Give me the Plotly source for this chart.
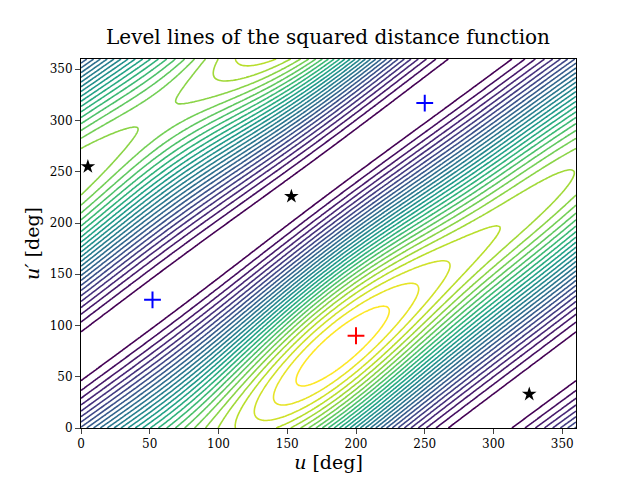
import numpy as np
import plotly.graph_objects as go

# grid (deg)
u = np.linspace(0, 360, 241)
up = np.linspace(0, 360, 241)

# marked points
star_u = [5, 153, 326]
star_up = [255, 226, 33]
blue_u = [52, 250]
blue_up = [125, 317]
red_u = [200]
red_up = [90]

# squared distance model (ridge along u-u'=110, valley along u'-u=70)
U, UP = np.meshgrid(np.radians(u), np.radians(up))
d = U - UP - np.radians(110)
mod = 1 + 0.1 * np.cos(U - np.radians(205)) + 0.03 * np.cos(2 * (U - np.radians(175)))
Z = (1 + np.cos(d)) * mod

fig = go.Figure()
fig.add_trace(go.Contour(
    x=u, y=up, z=Z,
    contours=dict(coloring='lines', start=0.08, end=Z.max(), size=0.075),
    colorscale='Viridis', showscale=False, line=dict(width=1.6)))
fig.add_trace(go.Scatter(x=star_u, y=star_up, mode='markers',
                         marker=dict(symbol='star', color='black', size=11)))
fig.add_trace(go.Scatter(x=blue_u, y=blue_up, mode='markers',
                         marker=dict(symbol='cross-thin', color='blue', size=12,
                                     line=dict(width=2, color='blue'))))
fig.add_trace(go.Scatter(x=red_u, y=red_up, mode='markers',
                         marker=dict(symbol='cross-thin', color='red', size=12,
                                     line=dict(width=2, color='red'))))

fig.update_layout(
    width=640, height=480, showlegend=False,
    plot_bgcolor='white', paper_bgcolor='white',
    font=dict(family='DejaVu Serif', color='black', size=12),
    title=dict(text='Level lines of the squared distance function', x=0.5, y=0.955,
               font=dict(size=20)),
    margin=dict(l=73, r=72, t=51, b=60))
fig.update_xaxes(range=[0, 360], tickvals=list(range(0, 351, 50)), ticks='outside',
                 showgrid=False, zeroline=False, mirror=True, showline=True,
                 linecolor='black', title=dict(text='<i>u</i> [deg]', font=dict(size=19), standoff=0))
fig.update_yaxes(range=[0, 360], tickvals=list(range(0, 351, 50)), ticks='outside',
                 showgrid=False, zeroline=False, mirror=True, showline=True,
                 linecolor='black', title=dict(text="<i>u′</i> [deg]", font=dict(size=19), standoff=5))
fig.write_html("out.html")
